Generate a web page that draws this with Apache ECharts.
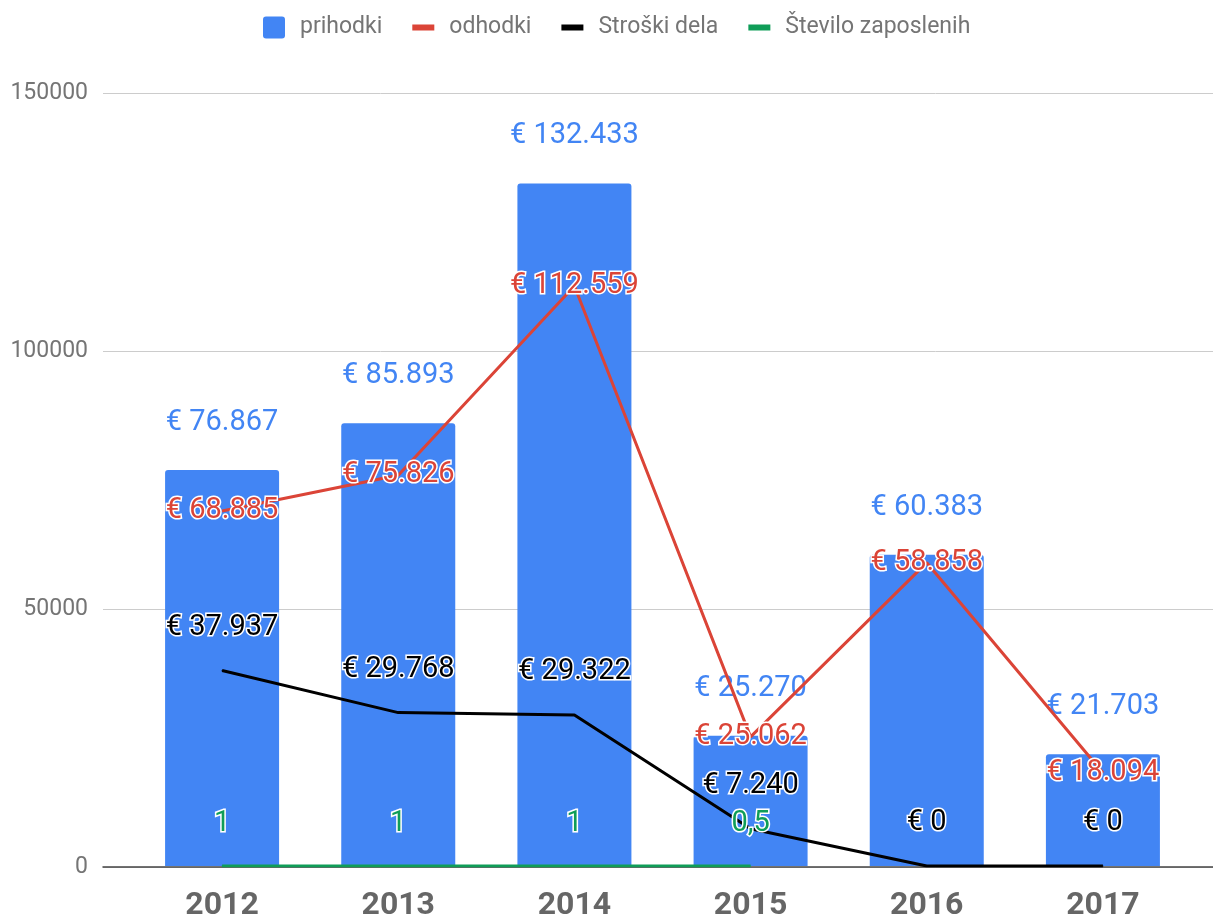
<!DOCTYPE html>
<html>
<head>
<meta charset="utf-8">
<script src="https://cdn.jsdelivr.net/npm/echarts@6/dist/echarts.min.js"></script>
<style>
html,body{margin:0;padding:0;background:#fff;}
#chart{width:1213px;height:922px;}
</style>
</head>
<body>
<div id="chart"></div>
<script>
const years = ['2012', '2013', '2014', '2015', '2016', '2017'];
const prihodki = [76867, 85893, 132433, 25270, 60383, 21703];
const odhodki = [68885, 75826, 112559, 25062, 58858, 18094];
const stroskiDela = [37937, 29768, 29322, 7240, 0, 0];
const steviloZaposlenih = [1, 1, 1, 0.5, null, null];
const yTicks = { min: 0, max: 150000, interval: 50000 };

function euro(v) {
  return '€ ' + String(Math.round(v)).replace(/\B(?=(\d{3})+(?!\d))/g, '.');
}
function dec(v) {
  return String(v).replace('.', ',');
}

const FONT = 'Roboto';
const lineIcon = 'path://M0,0h0.01v0.01h-0.01zM0,8h22v6h-22zM21.99,21.99h0.01v0.01h-0.01z';
const barIcon = 'path://M3,0h16a3,3 0 0 1 3,3v16a3,3 0 0 1 -3,3h-16a3,3 0 0 1 -3,-3v-16a3,3 0 0 1 3,-3z';

const chart = echarts.init(document.getElementById('chart'), null, { renderer: 'canvas' });

const labelBase = {
  show: true,
  fontFamily: FONT,
  fontSize: 29,
  textBorderColor: '#fff',
  textBorderWidth: 3
};

chart.setOption({
  animation: false,
  backgroundColor: '#fff',
  textStyle: { fontFamily: FONT },
  legend: {
    left: 263,
    top: 16,
    padding: 0,
    itemWidth: 22,
    itemHeight: 22,
    itemGap: 30,
    textStyle: { fontFamily: FONT, fontSize: 23, color: '#757575', padding: [0, 0, 0, 10] },
    data: [
      { name: 'prihodki', icon: barIcon },
      { name: 'odhodki', icon: lineIcon },
      { name: 'Stroški dela', icon: lineIcon },
      { name: 'Število zaposlenih', icon: lineIcon }
    ]
  },
  grid: [
    { left: 103, right: 0, top: 93, bottom: 55 },
    { left: 134, right: 22, top: 93, bottom: 55 }
  ],
  xAxis: [
    {
      gridIndex: 0, type: 'value', min: 0, max: 1,
      axisLine: { show: true, onZero: false, lineStyle: { color: '#444', width: 1.5 } },
      axisTick: { show: false }, axisLabel: { show: false }, splitLine: { show: false }
    },
    {
      gridIndex: 1, type: 'category', data: years,
      axisLine: { show: false }, axisTick: { show: false },
      axisLabel: { fontFamily: FONT, fontSize: 32, fontWeight: 'bold', color: '#666', margin: 24 }
    }
  ],
  yAxis: [
    {
      gridIndex: 0, type: 'value', min: yTicks.min, max: yTicks.max, interval: yTicks.interval,
      axisLine: { show: false }, axisTick: { show: false },
      axisLabel: { fontFamily: FONT, fontSize: 23, color: '#757575', margin: 15, formatter: v => String(v) },
      splitLine: { show: true, lineStyle: { color: '#cccccc', width: 1 } }
    },
    {
      gridIndex: 1, type: 'value', min: yTicks.min, max: yTicks.max, interval: yTicks.interval,
      show: false
    }
  ],
  series: [
    {
      name: 'prihodki', type: 'bar', xAxisIndex: 1, yAxisIndex: 1,
      data: prihodki, barWidth: 114,
      itemStyle: { color: '#4285F4', borderRadius: [3, 3, 0, 0] },
      label: Object.assign({}, labelBase, {
        position: 'top', distance: 33, color: '#4285F4',
        formatter: p => euro(p.value)
      })
    },
    {
      name: 'odhodki', type: 'line', xAxisIndex: 1, yAxisIndex: 1,
      data: odhodki, symbol: 'circle', symbolSize: 1,
      itemStyle: { color: '#DB4437' },
      lineStyle: { color: '#DB4437', width: 3 },
      label: Object.assign({}, labelBase, {
        position: 'inside', color: '#DB4437',
        formatter: p => euro(p.value)
      })
    },
    {
      name: 'Stroški dela', type: 'line', xAxisIndex: 1, yAxisIndex: 1,
      data: stroskiDela, symbol: 'circle', symbolSize: 1,
      itemStyle: { color: '#000' },
      lineStyle: { color: '#000', width: 3 },
      label: Object.assign({}, labelBase, {
        position: 'inside', offset: [0, -43], color: '#000',
        formatter: p => euro(p.value)
      })
    },
    {
      name: 'Število zaposlenih', type: 'line', xAxisIndex: 1, yAxisIndex: 1,
      data: steviloZaposlenih, symbol: 'circle', symbolSize: 1,
      itemStyle: { color: '#0F9D58' },
      lineStyle: { color: '#0F9D58', width: 3 },
      label: Object.assign({}, labelBase, {
        position: 'inside', offset: [0, -42], color: '#0F9D58',
        formatter: p => dec(p.value)
      })
    }
  ]
});
</script>
</body>
</html>
